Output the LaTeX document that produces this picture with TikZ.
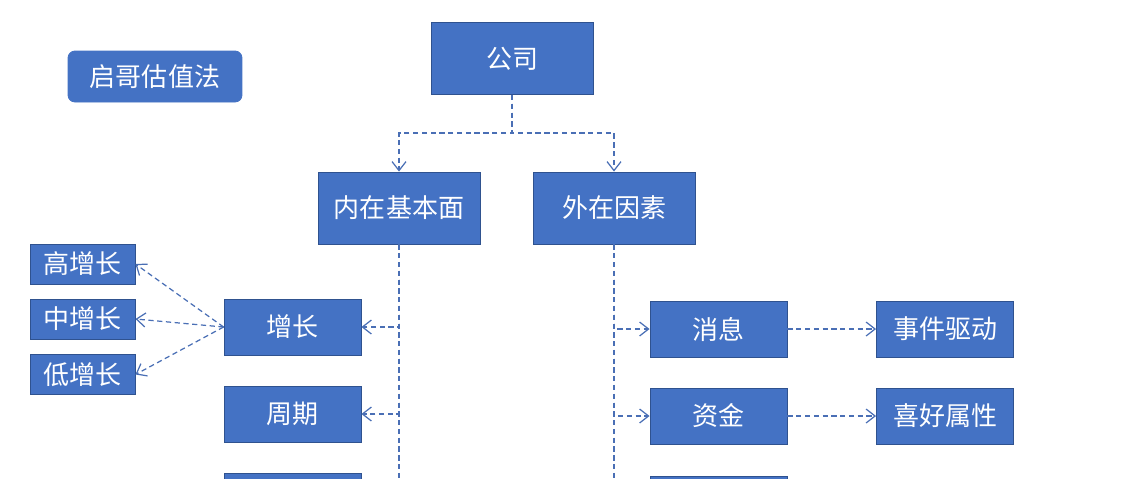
\documentclass[tikz,border=0pt]{standalone}
\usepackage{fontspec}
\setmainfont{Noto Sans CJK SC}
\usepackage{tikz}
\usetikzlibrary{arrows.meta,positioning}
\definecolor{boxblue}{HTML}{4472C4}
\definecolor{boxline}{HTML}{2F528F}
\definecolor{linkblue}{HTML}{4A6FB5}

\begin{document}
\begin{tikzpicture}[x=0.02cm,y=-0.02cm,
  box/.style={draw=boxline,line width=0.5pt,fill=boxblue,text=white,inner sep=0pt,
    font=\fontsize{14.8pt}{16pt}\selectfont},
  bigbox/.style={box,minimum width=3.24cm,minimum height=1.44cm},
  midbox/.style={box,minimum width=2.74cm,minimum height=1.12cm},
  smallbox/.style={box,minimum width=2.1cm,minimum height=0.8cm},
  link/.style={draw=linkblue,line width=0.7pt,dash pattern=on 3pt off 2pt,
    -{Straight Barb[length=1.8mm,width=2.8mm]}}]
\path[use as bounding box,clip] (0,0) rectangle (1126,478);

% title
\node[box,rounded corners=4pt,draw=boxblue,minimum width=3.48cm,minimum height=1.02cm] (title) at (155,76.5) {启哥估值法};

% top levels
\node[bigbox] (company) at (512,58.5) {公司};
\node[bigbox] (inner) at (399,208) {内在基本面};
\node[bigbox] (outer) at (614,208) {外在因素};

% inner branch
\node[midbox] (growth) at (292.5,327) {增长};
\node[midbox] (cycle) at (292.5,414) {周期};
\node[midbox] (innerc) at (292.5,501) {};
\node[smallbox] (high) at (82.5,264) {高增长};
\node[smallbox] (mid) at (82.5,319) {中增长};
\node[smallbox] (low) at (82.5,374.5) {低增长};

% outer branch
\node[midbox] (news) at (718.5,329) {消息};
\node[midbox] (funds) at (718.5,416) {资金};
\node[midbox] (outerc) at (718.5,504) {};
\node[midbox] (event) at (945,329) {事件驱动};
\node[midbox] (pref) at (945,416) {喜好属性};

% connectors
\draw[link] (company.south) -- ++(0,38) -| (inner.north);
\draw[link] (company.south) -- ++(0,38) -| (outer.north);
\draw[link] (inner.south) |- (growth);
\draw[link] (inner.south) |- (cycle);
\draw[link,-,line width=1.1pt] (inner.south) -- ++(0,300);
\draw[link] (outer.south) |- (news);
\draw[link] (outer.south) |- (funds);
\draw[link,-] (outer.south) -- ++(0,300);
\draw[link] (growth.west) -- (high.east);
\draw[link] (growth.west) -- (mid.east);
\draw[link] (growth.west) -- (low.east);
\draw[link] (news) -- (event);
\draw[link] (funds) -- (pref);
\end{tikzpicture}
\end{document}
